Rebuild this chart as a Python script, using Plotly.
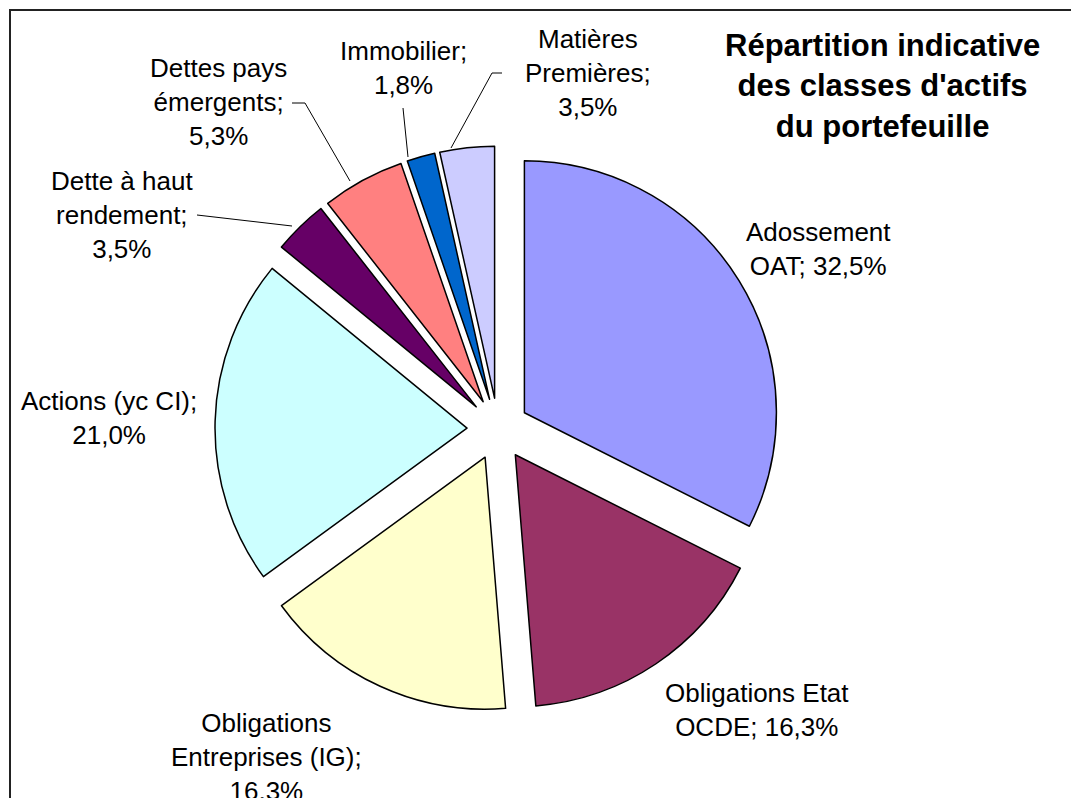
import plotly.graph_objects as go

W, H = 1071, 798

categories = ["Adossement OAT", "Obligations Etat OCDE", "Obligations Entreprises (IG)",
              "Actions (yc CI)", "Dette à haut rendement", "Dettes pays émergents",
              "Immobilier", "Matières Premières"]
values = [32.5, 16.3, 16.3, 21.0, 3.5, 5.3, 1.8, 3.5]
colors = ["#9999FF", "#993366", "#FFFFCC", "#CCFFFF", "#660066", "#FF8080", "#0066CC", "#CCCCFF"]
label_texts = ["Adossement<br>OAT; 32,5%", "Obligations Etat<br>OCDE; 16,3%",
               "Obligations<br>Entreprises (IG);<br>16,3%", "Actions (yc CI);<br>21,0%",
               "Dette à haut<br>rendement;<br>3,5%", "Dettes pays<br>émergents;<br>5,3%",
               "Immobilier;<br>1,8%", "Matières<br>Premières;<br>3,5%"]
title_text = "Répartition indicative<br>des classes d'actifs<br>du portefeuille"

# label centres (pixels)
label_pos = [(818, 249), (757, 710), (266, 757), (109, 418), (122, 215), (218, 102), (403, 68), (588, 73)]
# leader lines (pixels)
leaders = [
    [(197, 215), (292, 226)],
    [(292, 103), (305, 103), (350, 181)],
    [(403, 108), (408, 157)],
    [(502, 73), (492, 73), (451, 148)],
]


def px(x):
    return x / W


def py(y):
    return 1 - y / H


fig = go.Figure(go.Pie(
    labels=categories, values=values, sort=False, direction="clockwise", rotation=0,
    pull=[0.123] * len(values),
    marker=dict(colors=colors, line=dict(color="black", width=1.5)),
    textinfo="none", hoverinfo="label+percent", showlegend=False,
    domain=dict(x=[px(498 - 283), px(498 + 283)], y=[py(429 + 283), py(429 - 283)]),
))

font = dict(family="Liberation Sans, Arial, sans-serif", size=26, color="black")
annotations = []
for t, (x, y) in zip(label_texts, label_pos):
    annotations.append(dict(text=t, x=px(x), y=py(y), xref="paper", yref="paper",
                            showarrow=False, font=font, align="center",
                            xanchor="center", yanchor="middle"))
annotations.append(dict(text="<b>" + title_text + "</b>", x=px(882), y=py(86), xref="paper", yref="paper",
                        showarrow=False, align="center", xanchor="center", yanchor="middle",
                        font=dict(family="Liberation Sans, Arial, sans-serif", size=31, color="black")))

shapes = [dict(type="rect", xref="paper", yref="paper", x0=px(10), y0=py(10), x1=px(1200), y1=py(900),
               line=dict(color="#222222", width=2), fillcolor="rgba(0,0,0,0)", layer="below")]
for pts in leaders:
    path = "M " + " L ".join(f"{px(x)},{py(y)}" for x, y in pts)
    shapes.append(dict(type="path", xref="paper", yref="paper", path=path,
                       line=dict(color="black", width=1)))

fig.update_layout(width=W, height=H, margin=dict(l=0, r=0, t=0, b=0),
                  paper_bgcolor="white", plot_bgcolor="white",
                  annotations=annotations, shapes=shapes)
fig.write_html("out.html", config={"displayModeBar": False},
               post_script="document.body.style.margin='0';document.body.style.overflow='hidden';")
